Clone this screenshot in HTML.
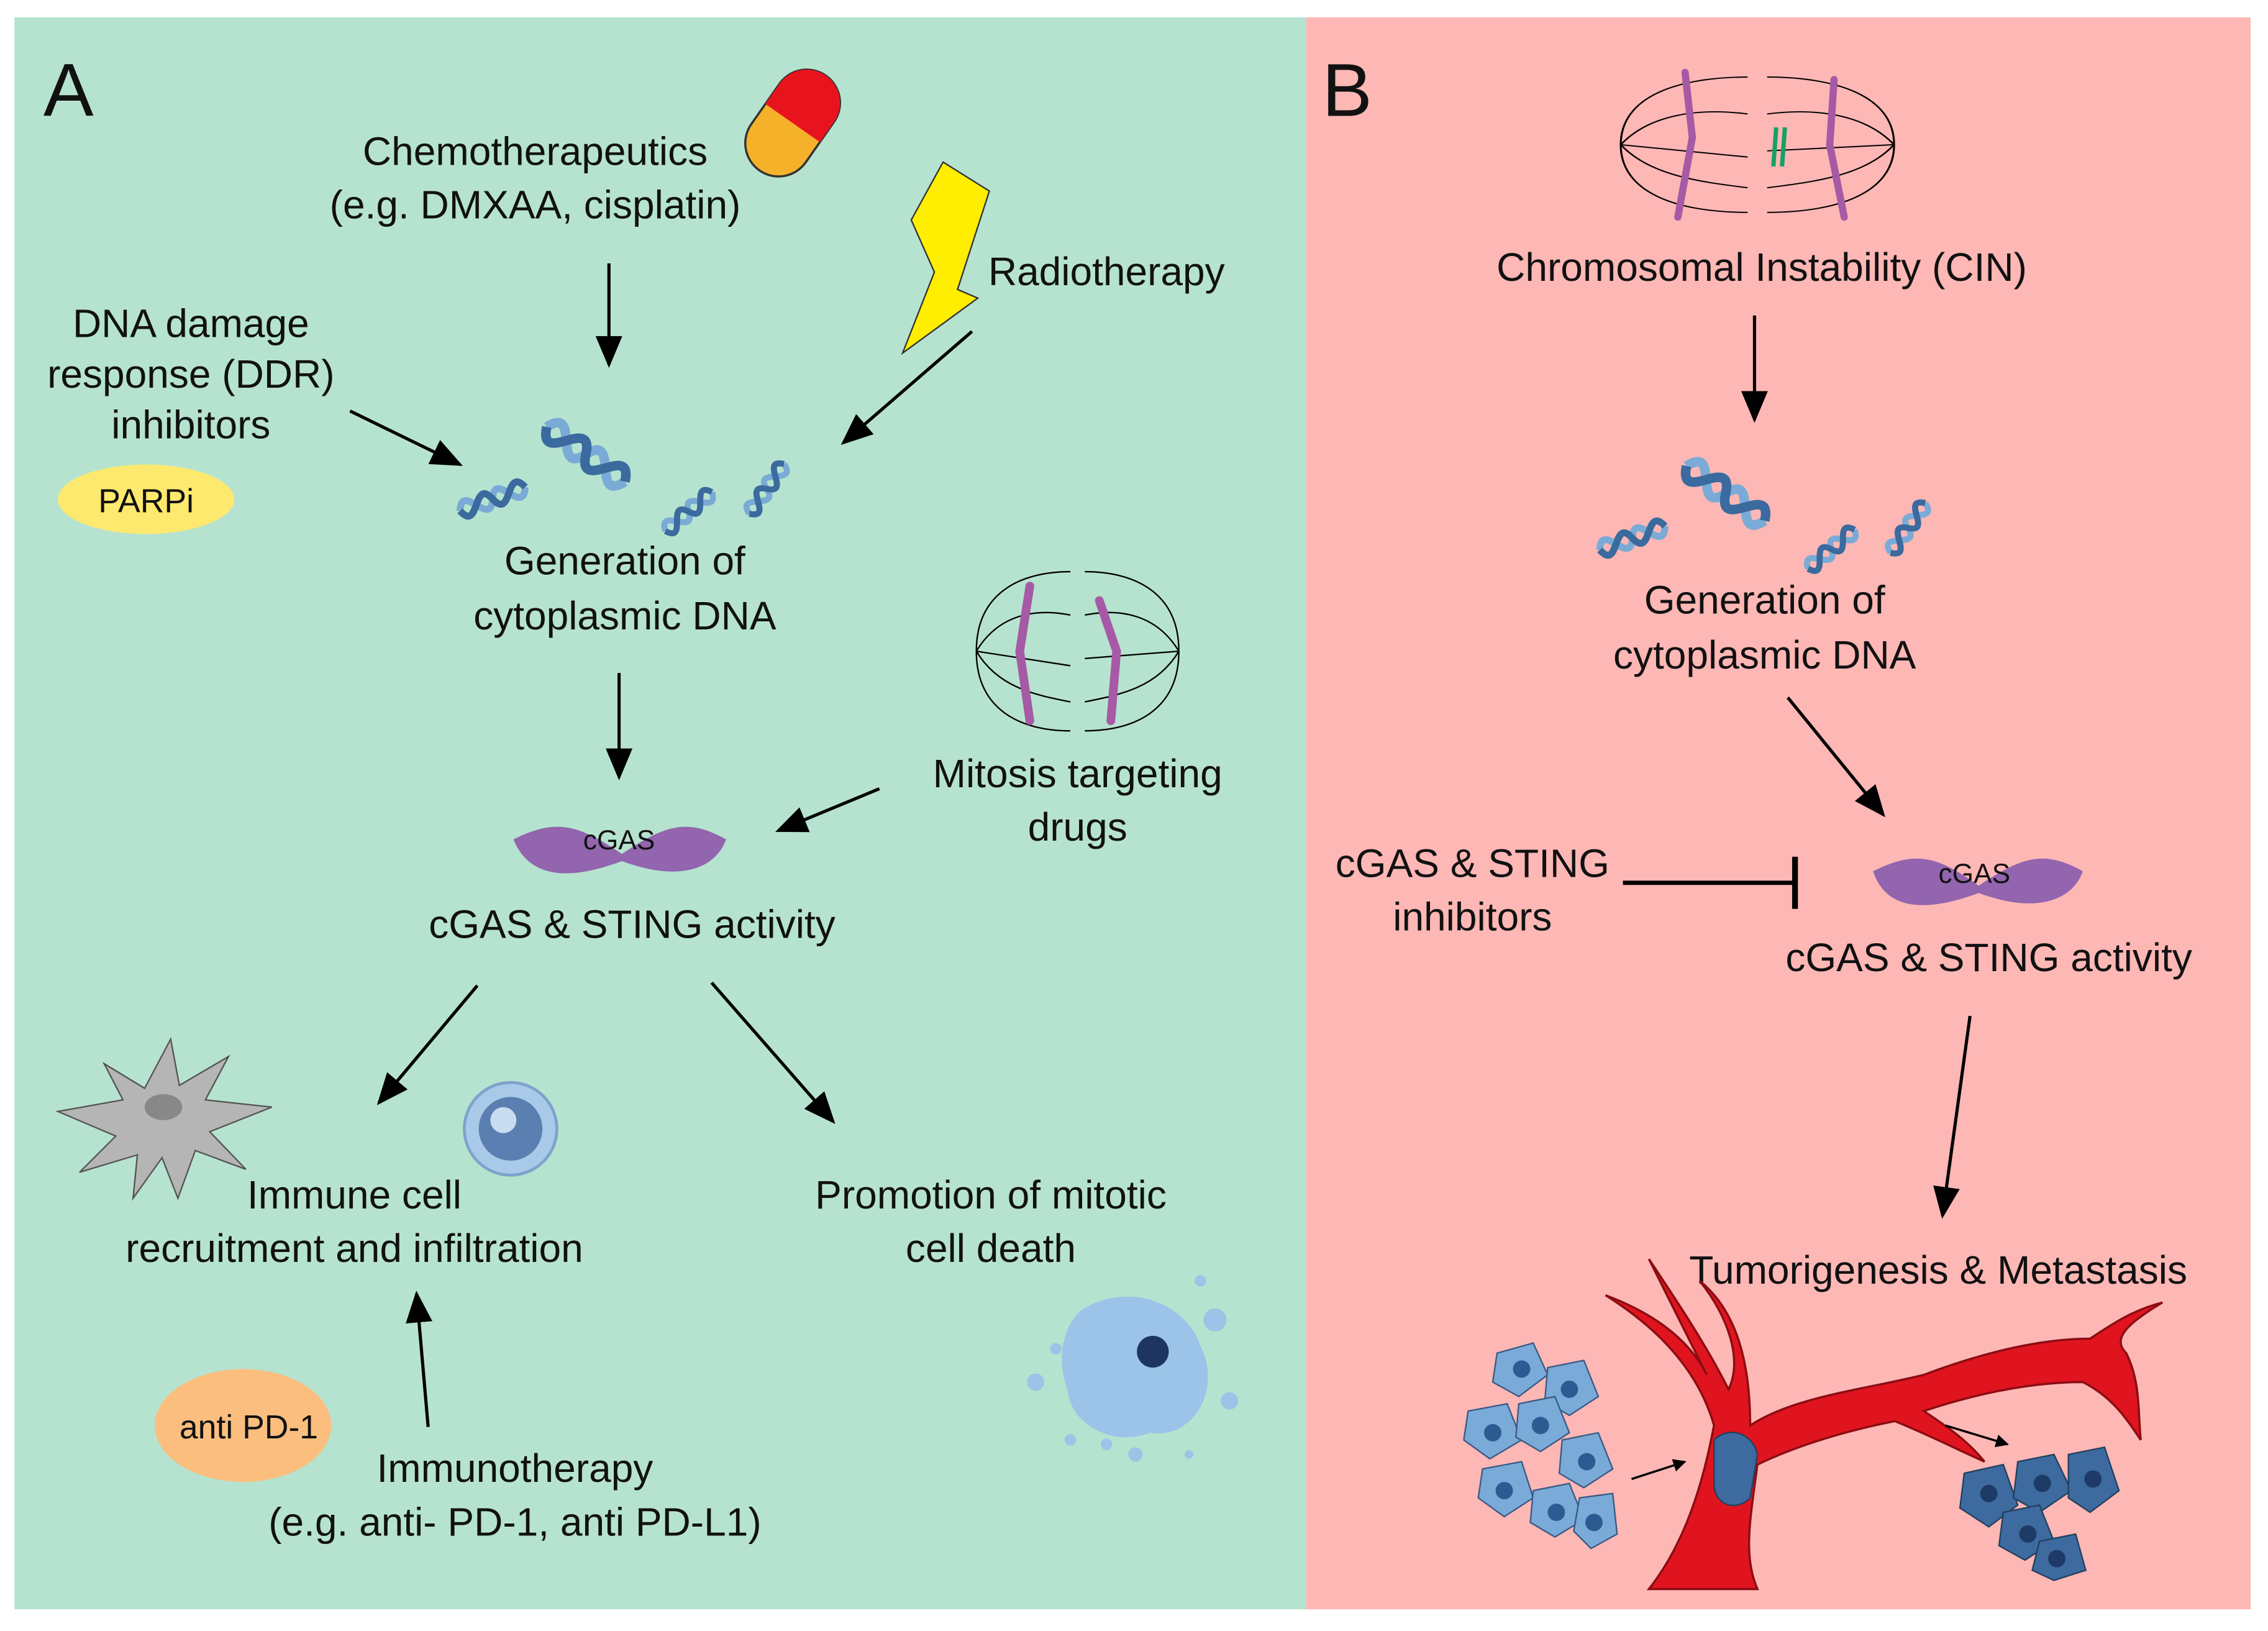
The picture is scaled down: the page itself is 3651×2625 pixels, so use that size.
<!DOCTYPE html>
<html><head><meta charset="utf-8"><style>html,body{margin:0;padding:0;background:#fff}svg{display:block}text{font-family:"Liberation Sans",sans-serif;fill:#111}</style></head><body>
<svg width="3651" height="2625" viewBox="0 0 1568 1127" preserveAspectRatio="none" xmlns="http://www.w3.org/2000/svg">
<defs>
<marker id="ah" viewBox="0 0 10 10" refX="9" refY="5" markerWidth="9" markerHeight="9" markerUnits="userSpaceOnUse" orient="auto"><path d="M0,0 L10,5 L0,10 z" fill="#000"/></marker>
<marker id="a" viewBox="0 0 10 10" refX="9" refY="5" markerWidth="10" markerHeight="10" orient="auto"><path d="M0,0.8 L10,5 L0,9.2 z" fill="#000"/></marker>
<g id="dna">
<path d="M0,0 C10,-24 20,24 30,0 C40,-24 50,24 60,0" fill="none" stroke="#7aabd6" stroke-width="6"/>
<path d="M0,0 C10,24 20,-24 30,0 C40,24 50,-24 60,0" fill="none" stroke="#3a6a9e" stroke-width="6"/>
</g>
<g id="spindle">
<path d="M-70,0 C-70,-40 -40,-55 -5,-55" fill="none" stroke="#000"/>
<path d="M-70,0 C-70,40 -40,55 -5,55" fill="none" stroke="#000"/>
<path d="M-70,0 L-5,10 M-70,0 C-55,-25 -30,-30 -5,-25 M-70,0 C-55,25 -30,30 -5,35" fill="none" stroke="#000"/>
<path d="M70,0 C70,-40 40,-55 5,-55" fill="none" stroke="#000"/>
<path d="M70,0 C70,40 40,55 5,55" fill="none" stroke="#000"/>
<path d="M70,0 L5,5 M70,0 C55,-25 30,-30 5,-25 M70,0 C55,25 30,30 5,35" fill="none" stroke="#000"/>
</g>
</defs>
<rect x="10" y="12" width="893" height="1100" fill="#b6e3cf"/>
<rect x="903" y="12" width="653" height="1100" fill="#fdb7b5"/>
<text x="30" y="80" font-size="52">A</text>
<text x="914" y="80" font-size="52">B</text>

<g font-size="27.5" text-anchor="middle">
<text x="370" y="114">Chemotherapeutics</text>
<text x="370" y="151">(e.g. DMXAA, cisplatin)</text>
<text x="765" y="197">Radiotherapy</text>
<text x="132" y="233">DNA damage</text>
<text x="132" y="268">response (DDR)</text>
<text x="132" y="303">inhibitors</text>
<text x="432" y="397">Generation of</text>
<text x="432" y="435">cytoplasmic DNA</text>
<text x="745" y="544">Mitosis targeting</text>
<text x="745" y="581">drugs</text>
<text x="437" y="648">cGAS &amp; STING activity</text>
<text x="245" y="835">Immune cell</text>
<text x="245" y="872">recruitment and infiltration</text>
<text x="685" y="835">Promotion of mitotic</text>
<text x="685" y="872">cell death</text>
<text x="356" y="1024">Immunotherapy</text>
<text x="356" y="1061">(e.g. anti- PD-1, anti PD-L1)</text>
</g>
<g transform="rotate(-55 548 85)"><rect x="508" y="62" width="80" height="46" rx="23" fill="#f5b12a" stroke="#333" stroke-width="1.5"/><path d="M548,62 L565,62 A23,23 0 0 1 565,108 L548,108 Z" fill="#e8141d"/></g>
<path d="M652,112 L684,132 L662,200 L676,206 L624,244 L646,188 L630,152 L652,112 Z" fill="#ffee00" stroke="#333" stroke-width="1"/>
<ellipse cx="101" cy="345" rx="61" ry="24" fill="#fde96e"/>
<text x="101" y="354" font-size="23" text-anchor="middle">PARPi</text>
<use href="#dna" transform="translate(318,353) rotate(-20) scale(0.8)"/>
<use href="#dna" transform="translate(378,295) rotate(35) scale(1.1)"/>
<use href="#dna" transform="translate(460,367) rotate(-40) scale(0.7)"/>
<use href="#dna" transform="translate(518,355) rotate(-55) scale(0.7)"/>
<use href="#spindle" transform="translate(745,450)"/>
<path d="M712,405 L705,450 L712,498 M760,415 L772,450 L768,498" fill="none" stroke="#a659a4" stroke-width="6" stroke-linecap="round"/>
<path d="M355,580 C385,565 400,570 430,590 C460,570 475,565 502,580 C495,600 470,610 430,595 C390,610 365,605 355,580 Z" fill="#9265ae"/>
<text x="428" y="587" font-size="19" text-anchor="middle">cGAS</text>
<g stroke="#000" stroke-width="2.2" fill="none" marker-end="url(#a)">
<line x1="421" y1="182" x2="421" y2="252"/>
<line x1="242" y1="284" x2="318" y2="321"/>
<line x1="672" y1="229" x2="583" y2="306"/>
<line x1="428" y1="465" x2="428" y2="537"/>
<line x1="608" y1="545" x2="538" y2="574"/>
<line x1="330" y1="681" x2="262" y2="762"/>
<line x1="492" y1="679" x2="576" y2="775"/>
<line x1="296" y1="986" x2="288" y2="894"/>
</g>
<path d="M40,768 L85,760 L72,735 L100,752 L118,718 L124,750 L158,730 L142,760 L188,765 L145,782 L170,808 L135,795 L123,828 L112,800 L92,828 L95,798 L55,810 L80,785 Z" fill="#b5b5b5" stroke="#555" stroke-width="1"/>
<ellipse cx="113" cy="765" rx="13" ry="9" fill="#888"/>
<circle cx="353" cy="780" r="32" fill="#a9c9e8" stroke="#7ca3cc" stroke-width="2"/>
<circle cx="353" cy="780" r="22" fill="#5a7fb0"/>
<circle cx="348" cy="774" r="9" fill="#c9dcf0"/>
<ellipse cx="168" cy="985" rx="61" ry="39" fill="#fbbe7e"/>
<text x="172" y="994" font-size="23" text-anchor="middle">anti PD-1</text>
<path d="M748,905 C780,885 820,900 830,930 C845,960 825,995 795,990 C770,1000 740,985 738,960 C730,940 735,915 748,905 Z" fill="#9cc4e8"/>
<circle cx="797" cy="934" r="11" fill="#1e3560"/>
<g fill="#9cc4e8"><circle cx="840" cy="912" r="8"/><circle cx="850" cy="968" r="6"/><circle cx="716" cy="955" r="6"/><circle cx="730" cy="932" r="4"/><circle cx="785" cy="1005" r="5"/><circle cx="765" cy="998" r="4"/><circle cx="830" cy="885" r="4"/><circle cx="740" cy="995" r="4"/><circle cx="822" cy="1005" r="3"/></g>

<!-- Panel B -->
<use href="#spindle" transform="translate(1215,100) scale(1.35,0.85)"/>
<path d="M1165,50 L1170,95 L1160,150 M1268,55 L1265,100 L1275,150" fill="none" stroke="#a659a4" stroke-width="5" stroke-linecap="round"/>
<path d="M1228,88 L1226,115 M1234,88 L1232,115" stroke="#16a065" stroke-width="3"/>
<g font-size="27.5" text-anchor="middle">
<text x="1218" y="194">Chromosomal Instability (CIN)</text>
<text x="1220" y="424">Generation of</text>
<text x="1220" y="462">cytoplasmic DNA</text>
<text x="1018" y="606">cGAS &amp; STING</text>
<text x="1018" y="643">inhibitors</text>
<text x="1375" y="671">cGAS &amp; STING activity</text>
<text x="1340" y="887">Tumorigenesis &amp; Metastasis</text>
</g>
<use href="#dna" transform="translate(1106,380) rotate(-20) scale(0.8)"/>
<use href="#dna" transform="translate(1166,322) rotate(35) scale(1.1)"/>
<use href="#dna" transform="translate(1250,393) rotate(-40) scale(0.7)"/>
<use href="#dna" transform="translate(1307,382) rotate(-55) scale(0.7)"/>
<path d="M1295,602 C1325,587 1340,592 1368,612 C1398,592 1413,587 1440,602 C1433,622 1408,632 1368,617 C1328,632 1303,627 1295,602 Z" fill="#9265ae"/>
<text x="1365" y="610" font-size="19" text-anchor="middle">cGAS</text>
<g stroke="#000" stroke-width="2.2" fill="none" marker-end="url(#a)">
<line x1="1213" y1="218" x2="1213" y2="290"/>
<line x1="1236" y1="482" x2="1302" y2="563"/>
<line x1="1362" y1="702" x2="1343" y2="840"/>
</g>
<line x1="1122" y1="610" x2="1240" y2="610" stroke="#000" stroke-width="3"/>
<line x1="1241" y1="592" x2="1241" y2="628" stroke="#000" stroke-width="4"/>
<path d="M1140,1098 C1170,1060 1180,1010 1185,985 C1175,950 1150,920 1110,895 C1150,910 1170,930 1180,950 L1140,870 C1160,900 1180,930 1195,960 C1205,940 1195,910 1175,885 C1200,905 1210,940 1210,985 C1240,965 1290,960 1330,950 C1370,935 1410,925 1445,925 C1460,915 1475,905 1495,900 C1470,915 1460,925 1470,935 C1480,955 1478,975 1480,995 C1470,980 1460,965 1440,955 C1400,955 1360,965 1330,975 C1345,985 1360,995 1372,1010 C1350,1000 1330,990 1310,982 C1270,990 1240,1000 1215,1012 C1210,1050 1205,1075 1215,1098 Z" fill="#e0141f" stroke="#8a0d12" stroke-width="1.5"/>
<path d="M1185,995 C1195,985 1212,990 1215,1005 L1210,1035 C1200,1045 1185,1040 1185,1025 Z" fill="#3d6a9f" stroke="#22405e"/>
<g fill="#7aaad8" stroke="#3a5a85" stroke-width="1">
<path d="M1035,935 L1060,928 L1070,950 L1050,965 L1032,955 Z"/><path d="M1070,945 L1095,940 L1105,965 L1085,978 L1068,968 Z"/>
<path d="M1015,975 L1042,970 L1052,995 L1030,1008 L1012,995 Z"/><path d="M1050,970 L1075,965 L1085,990 L1065,1003 L1048,993 Z"/>
<path d="M1080,995 L1105,990 L1115,1015 L1095,1028 L1078,1018 Z"/><path d="M1025,1015 L1052,1010 L1060,1035 L1040,1048 L1022,1035 Z"/>
<path d="M1060,1030 L1085,1025 L1095,1050 L1075,1062 L1058,1052 Z"/><path d="M1092,1035 L1115,1032 L1118,1060 L1100,1070 L1088,1058 Z"/>
</g>
<g fill="#2d5a90"><circle cx="1052" cy="946" r="6"/><circle cx="1085" cy="960" r="6"/><circle cx="1032" cy="990" r="6"/><circle cx="1065" cy="985" r="6"/><circle cx="1097" cy="1010" r="6"/><circle cx="1040" cy="1030" r="6"/><circle cx="1076" cy="1045" r="6"/><circle cx="1102" cy="1052" r="6"/></g>
<g fill="#3d6a9f" stroke="#22405e" stroke-width="1">
<path d="M1358,1018 L1385,1012 L1395,1040 L1375,1055 L1355,1042 Z"/><path d="M1395,1010 L1420,1005 L1432,1030 L1410,1045 L1392,1035 Z"/>
<path d="M1430,1005 L1455,1000 L1465,1030 L1445,1045 L1430,1035 Z"/><path d="M1385,1045 L1410,1040 L1420,1065 L1400,1078 L1382,1068 Z"/>
<path d="M1410,1065 L1435,1060 L1442,1085 L1420,1092 L1405,1085 Z"/>
</g>
<g fill="#1e3a66"><circle cx="1375" cy="1032" r="6"/><circle cx="1412" cy="1025" r="6"/><circle cx="1447" cy="1022" r="6"/><circle cx="1402" cy="1060" r="6"/><circle cx="1422" cy="1077" r="6"/></g>
<g stroke="#000" stroke-width="1.5" fill="none" marker-end="url(#ah)">
<line x1="1128" y1="1022" x2="1165" y2="1010"/>
<line x1="1345" y1="985" x2="1388" y2="998"/>
</g>
</svg>
</body></html>
